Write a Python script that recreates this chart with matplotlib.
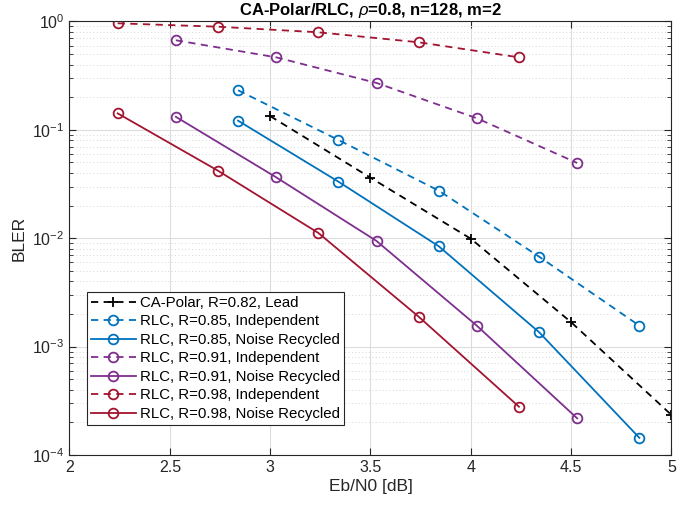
import numpy as np
import matplotlib
matplotlib.use('Agg')
import matplotlib.pyplot as plt
from matplotlib.ticker import LogLocator, NullFormatter

plt.rcParams['font.family'] = ['Liberation Sans', 'DejaVu Sans']
plt.rcParams['mathtext.fontset'] = 'custom'
plt.rcParams['mathtext.rm'] = 'Liberation Sans'
plt.rcParams['mathtext.it'] = 'Liberation Sans:italic'

# Eb/N0 [dB] values
x_polar = [3.0, 3.5, 4.0, 4.5, 5.0]
x_r85 = [2.84, 3.34, 3.84, 4.34, 4.84]
x_r91 = [2.53, 3.03, 3.53, 4.03, 4.53]
x_r98 = [2.24, 2.74, 3.24, 3.74, 4.24]

# BLER values
bler_polar = [0.134, 0.0362, 0.0099, 0.00168, 0.000234]
bler_r85_ind = [0.232, 0.0807, 0.0275, 0.00677, 0.00156]
bler_r85_nr = [0.1216, 0.0333, 0.00844, 0.00136, 0.000144]
bler_r91_ind = [0.671, 0.467, 0.271, 0.128, 0.0495]
bler_r91_nr = [0.132, 0.0365, 0.00944, 0.00156, 0.000218]
bler_r98_ind = [0.962, 0.895, 0.795, 0.643, 0.467]
bler_r98_nr = [0.142, 0.042, 0.0112, 0.00189, 0.000279]

blue = '#0072BD'
purple = '#7E2F8E'
red = '#A2142F'
dash = (4, 3)

fig = plt.figure(figsize=(6.97, 5.08), dpi=100)
ax = fig.add_axes([0.0997, 0.1043, 0.8637, 0.8534])

ax.plot(x_polar, bler_polar, color='black', ls='--', dashes=dash, marker='+',
        ms=7, mew=1.3, lw=1.3, label='CA-Polar, R=0.82, Lead')
series = [
    (x_r85, bler_r85_ind, blue, '--', 'RLC, R=0.85, Independent'),
    (x_r85, bler_r85_nr, blue, '-', 'RLC, R=0.85, Noise Recycled'),
    (x_r91, bler_r91_ind, purple, '--', 'RLC, R=0.91, Independent'),
    (x_r91, bler_r91_nr, purple, '-', 'RLC, R=0.91, Noise Recycled'),
    (x_r98, bler_r98_ind, red, '--', 'RLC, R=0.98, Independent'),
    (x_r98, bler_r98_nr, red, '-', 'RLC, R=0.98, Noise Recycled'),
]
for xs, ys, c, ls, lab in series:
    kw = dict(dashes=dash) if ls == '--' else {}
    ax.plot(xs, ys, color=c, ls=ls, marker='o', ms=7, mfc='none', mew=1.3,
            lw=1.3, label=lab, **kw)

ax.set_yscale('log')
ax.set_xlim(2, 5)
ax.set_ylim(1e-4, 1)
ax.set_xticks([2, 2.5, 3, 3.5, 4, 4.5, 5])
ax.set_xticklabels(['2', '2.5', '3', '3.5', '4', '4.5', '5'])
ax.yaxis.set_major_locator(LogLocator(base=10, numticks=10))
ax.yaxis.set_minor_locator(LogLocator(base=10, subs=np.arange(2, 10), numticks=10))
ax.yaxis.set_minor_formatter(NullFormatter())

ax.grid(True, which='major', color='#dcdcdc', lw=0.8, ls='-')
ax.grid(True, which='minor', axis='y', color='#d6d6d6', lw=0.7, ls=(0, (1, 2.5)))
ax.set_axisbelow(True)

ax.tick_params(which='both', direction='in', top=True, right=True,
               colors='#262626', labelsize=11.5)
ax.tick_params(which='major', length=5)
ax.tick_params(which='minor', length=3)
for s in ax.spines.values():
    s.set_color('#262626')
    s.set_linewidth(0.8)

ax.set_xlabel('Eb/N0 [dB]', fontsize=12.5, color='#262626', labelpad=3)
ax.set_ylabel('BLER', fontsize=12.5, color='#262626')
ax.set_title(r'CA-Polar/RLC, $\rho$=0.8, n=128, m=2', fontsize=12,
             fontweight='bold', pad=5)

leg = ax.legend(loc='lower left', bbox_to_anchor=(0.029, 0.07), fontsize=10.8,
                frameon=True, fancybox=False, edgecolor='#262626',
                framealpha=1, handlelength=3.0, handletextpad=0.3,
                labelspacing=0.3, borderpad=0.25, borderaxespad=0)
leg.get_frame().set_linewidth(0.8)

fig.savefig('out.png', dpi=100)
